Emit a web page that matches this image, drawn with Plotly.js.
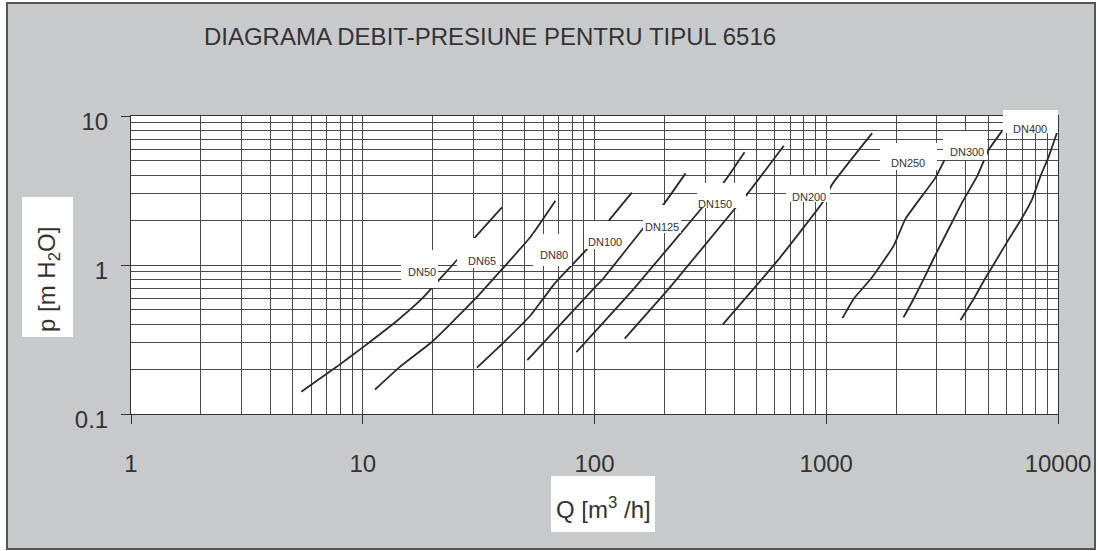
<!DOCTYPE html>
<html>
<head>
<meta charset="utf-8">
<script src="https://cdn.plot.ly/plotly-3.0.1.min.js"></script>
<style>
html,body{margin:0;padding:0;background:#ffffff;width:1098px;height:551px;overflow:hidden;}
#frame{position:absolute;left:6px;top:2px;width:1090px;height:548px;box-sizing:border-box;border:2px solid #555;background:#c8c9cb;}
#chart{position:absolute;left:0;top:0;width:1086px;height:544px;}
</style>
</head>
<body>
<div id="frame"><div id="chart"></div></div>
<script>
// ---- data ----
const seriesNames = ['DN50','DN65','DN80','DN100','DN125','DN150','DN200','DN250','DN300','DN400'];

const q_DN50  = [5.43, 7.74, 10.0, 14.1, 18.0, 21.6, 25.9, 30.6, 39.9];
const p_DN50  = [0.141, 0.208, 0.280, 0.424, 0.594, 0.811, 1.11, 1.54, 2.44];

const q_DN65  = [11.3, 14.5, 19.8, 23.1, 30.6, 36.7, 52.9, 67.8];
const p_DN65  = [0.146, 0.208, 0.303, 0.382, 0.594, 0.811, 1.54, 2.70];

const q_DN80  = [31.1, 40.6, 52.9, 67.8, 97.6, 117, 145];
const p_DN80  = [0.205, 0.303, 0.458, 0.762, 1.39, 2.04, 3.06];

const q_DN100 = [51.3, 99.2, 109, 166, 199, 247];
const p_DN100 = [0.230, 0.694, 0.811, 1.84, 2.56, 4.12];

const q_DN125 = [83.5, 148, 296, 361, 444];
const p_DN125 = [0.260, 0.694, 2.50, 3.57, 5.71];

const q_DN150 = [135, 213, 413, 456, 656];
const p_DN150 = [0.321, 0.716, 2.50, 2.99, 6.32];

const q_DN200 = [358, 495, 634, 976, 1061, 1578];
const p_DN200 = [0.399, 0.716, 1.13, 2.70, 3.48, 7.67];

const q_DN250 = [1175, 1314, 1562, 1956, 2197, 2960, 3325, 3540];
const p_DN250 = [0.440, 0.594, 0.811, 1.35, 2.04, 3.86, 5.51, 6.52];

const q_DN300 = [2154, 2386, 2638, 2911, 3860, 4480, 5027, 5743];
const p_DN300 = [0.445, 0.594, 0.811, 1.11, 2.63, 3.95, 5.94, 7.95];

const q_DN400 = [3795, 4331, 4851, 6037, 6890, 7738, 8405, 9127, 9920];
const p_DN400 = [0.426, 0.594, 0.811, 1.43, 1.99, 2.77, 3.95, 5.36, 7.79];

const xTickVals = [1, 10, 100, 1000, 10000];
const xTickText = ['1', '10', '100', '1000', '10000'];
const yTickVals = [0.1, 1, 10];
const yTickText = ['0.1', '1', '10'];

const chartTitle = 'DIAGRAMA DEBIT-PRESIUNE PENTRU TIPUL 6516';
const xTitle = 'Q [m<sup>3</sup> /h]';
const yTitle = 'p [m H<sub>2</sub>O]';

// ---- build ----
const qs = [q_DN50,q_DN65,q_DN80,q_DN100,q_DN125,q_DN150,q_DN200,q_DN250,q_DN300,q_DN400];
const ps = [p_DN50,p_DN65,p_DN80,p_DN100,p_DN125,p_DN150,p_DN200,p_DN250,p_DN300,p_DN400];

const traces = seriesNames.map((n,i)=>({
  type:'scatter', mode:'lines', name:n, x:qs[i], y:ps[i],
  line:{color:'#2a2a2a', width:1.8, shape:'spline', smoothing:0.4},
  hoverinfo:'skip', showlegend:false
}));

// layout geometry (page pixels)
const OX = 8, OY = 4;            // chart div origin on page
const PL = 131, PT = 116, PW = 927, PH = 298;
const fx = px => (px - PL) / PW;
const fy = py => (PT + PH - py) / PH;

const FONT = 'Liberation Sans, Arial, Helvetica, sans-serif';
const TXT = '#333333';

// label text centres and white boxes [x0,y0,x1,y1] in page pixels
const labelPos = [
  [422,272],[482,261],[554,255],[605,242],[662,227],
  [715,204],[809,197],[908,163],[967,152],[1030,129]
];
const labelBox = [
  [401,250,438,288],[457,238,500,268],[533,234,572,266],[586,221,625,249],[643,205,681,233],
  [697,183,746,208],[786,176,830,202],[880,143,937,170],[943,131,987,160],[1003,110,1058,133]
];

const shapes = [];
const annotations = [];
labelBox.forEach(b=>{
  shapes.push({type:'rect', xref:'paper', yref:'paper', x0:fx(b[0]), x1:fx(b[2]), y0:fy(b[3]), y1:fy(b[1]),
    fillcolor:'#ffffff', line:{width:0}, layer:'above'});
});
seriesNames.forEach((n,i)=>{
  annotations.push({text:n, xref:'paper', yref:'paper', x:fx(labelPos[i][0]), y:fy(labelPos[i][1]),
    xanchor:'center', yanchor:'middle', showarrow:false, font:{family:FONT, size:11, color:TXT}});
});
// axis title boxes
shapes.push({type:'rect', xref:'paper', yref:'paper', x0:fx(551), x1:fx(655), y0:fy(532), y1:fy(476),
  fillcolor:'#ffffff', line:{width:0}, layer:'above'});
shapes.push({type:'rect', xref:'paper', yref:'paper', x0:fx(22), x1:fx(73), y0:fy(337), y1:fy(197),
  fillcolor:'#ffffff', line:{width:0}, layer:'above'});
annotations.push({text:xTitle, xref:'paper', yref:'paper', x:fx(603), y:fy(508),
  xanchor:'center', yanchor:'middle', showarrow:false, font:{family:FONT, size:24, color:TXT}});
annotations.push({text:yTitle, xref:'paper', yref:'paper', x:fx(48), y:fy(280), textangle:-90,
  xanchor:'center', yanchor:'middle', showarrow:false, font:{family:FONT, size:24, color:TXT}});

const gridCol = '#4a4a4a';
const layout = {
  width:1086, height:544,
  margin:{l:PL-OX, t:PT-OY, r:1086-(PL-OX)-PW, b:544-(PT-OY)-PH, pad:0},
  paper_bgcolor:'#c8c9cb', plot_bgcolor:'#ffffff',
  font:{family:FONT, color:TXT},
  title:{text:chartTitle, font:{family:FONT, size:24, color:TXT},
    xref:'container', yref:'container', x:(490-OX)/1086, xanchor:'center', y:1-(37-OY)/544, yanchor:'middle'},
  xaxis:{type:'log', range:[0,4], tickmode:'array', tickvals:xTickVals, ticktext:xTickText,
    ticks:'outside', ticklen:9, tickwidth:1, tickcolor:'#333',
    tickfont:{family:FONT, size:24, color:TXT}, ticklabelstandoff:19,
    showgrid:true, gridcolor:gridCol, gridwidth:1,
    minor:{dtick:'D1', showgrid:true, gridcolor:gridCol, gridwidth:1, ticks:''},
    showline:true, linecolor:'#333', linewidth:1, mirror:true, zeroline:false, fixedrange:true},
  yaxis:{type:'log', range:[-1,1], tickmode:'array', tickvals:yTickVals, ticktext:yTickText,
    ticks:'outside', ticklen:9, tickwidth:1, tickcolor:'#333',
    tickfont:{family:FONT, size:24, color:TXT}, ticklabelstandoff:8, ticklabelshift:6,
    showgrid:true, gridcolor:gridCol, gridwidth:1,
    minor:{dtick:'D1', showgrid:true, gridcolor:gridCol, gridwidth:1, ticks:''},
    showline:true, linecolor:'#333', linewidth:1, mirror:true, zeroline:false, fixedrange:true},
  shapes:shapes,
  annotations:annotations,
  showlegend:false
};

Plotly.newPlot('chart', traces, layout, {staticPlot:true, displayModeBar:false});
</script>
</body>
</html>
